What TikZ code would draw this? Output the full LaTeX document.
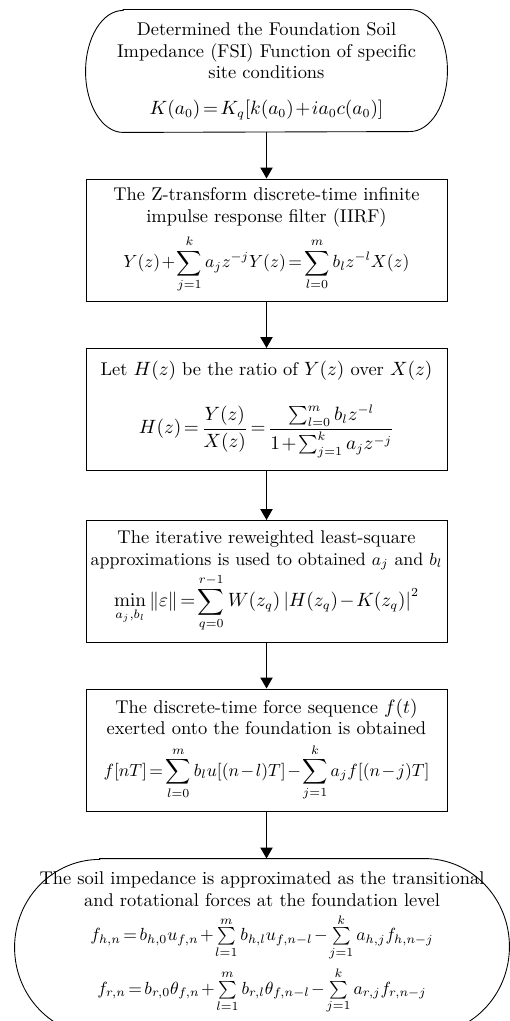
\documentclass[tikz,border=0pt]{standalone}
\usepackage{tikz}
\usetikzlibrary{
  positioning,
  arrows.meta
}
\usepackage{amsmath,amssymb}
\thickmuskip=2.5mu plus 2mu
\medmuskip=1.5mu plus 1mu

\begin{document}
\begin{tikzpicture}[
  term/.style={line width=0.5pt, minimum height=2.44cm, minimum width=7.22cm,
               align=center, font=\fontsize{10.5}{12.3}\selectfont, inner sep=0pt},
  box/.style={draw, line width=0.5pt, minimum height=2.44cm, minimum width=7.22cm,
              align=center, font=\fontsize{10.5}{12.3}\selectfont, inner sep=0pt},
  edge/.style={line width=0.5pt},
  arr/.style={-{Triangle[length=2.2mm, width=2.4mm]}, line width=1.1pt}
]
  \useasboundingbox (0,0) rectangle (10.2,-20.42);
  \clip (0,0) rectangle (10.2,-20.42);

  \node[term] (fsi) at (5.33, -1.42) {
    Determined the Foundation Soil\\
    Impedance (FSI) Function of specific\\
    site conditions\\[8pt]
    $K(a_0)=K_q[k(a_0)+ia_0c(a_0)]$
  };
  \draw[edge] ([xshift=0.75cm]fsi.north west) -- ([xshift=-0.75cm]fsi.north east)
    arc[start angle=90, end angle=-90, x radius=0.75cm, y radius=1.22cm]
    -- ([xshift=0.75cm]fsi.south west)
    arc[start angle=270, end angle=90, x radius=0.75cm, y radius=1.22cm] -- cycle;

  \node[box] (iirf) at (5.33, -4.80) {
    The Z-transform discrete-time infinite\\
    impulse response filter (IIRF)\\[4pt]
    {\fontsize{10}{12}\selectfont
    $\displaystyle Y(z)+\sum_{j=1}^{k}a_jz^{-j}Y(z)=\sum_{l=0}^{m}b_lz^{-l}X(z)$}
  };

  \node[box] (ratio) at (5.33, -8.19) {
    Let $H(z)$ be the ratio of $Y(z)$ over $X(z)$\\[13pt]
    $\displaystyle H(z)=\frac{Y(z)}{X(z)}=\frac{\sum_{l=0}^{m}b_lz^{-l}}{1+\sum_{j=1}^{k}a_jz^{-j}}$
  };

  \node[box] (irls) at (5.33, -11.63) {
    The iterative reweighted least-square\\
    {\fontsize{10.2}{12.3}\selectfont approximations is used to obtained $a_j$ and $b_l$}\\[1pt]
    $\displaystyle \min_{a_j,b_l}\|\varepsilon\|=\sum_{q=0}^{r-1}W(z_q)\left|H(z_q)-K(z_q)\right|^2$
  };

  \node[box] (force) at (5.33, -15.00) {
    The discrete-time force sequence $f(t)$\\
    exerted onto the foundation is obtained\\[4pt]
    {\fontsize{10}{12}\selectfont
    $\displaystyle f[nT]=\sum_{l=0}^{m}b_lu[(n-l)T]-\sum_{j=1}^{k}a_jf[(n-j)T]$}
  };

  \node[term, minimum width=9.88cm, minimum height=3.52cm] (soil) at (5.24, -18.86) {
    The soil impedance is approximated as the transitional\\
    and rotational forces at the foundation level\\[3pt]
    {\fontsize{10}{12}\selectfont
    $f_{h,n}=b_{h,0}u_{f,n}+\sum\limits_{l=1}^{m}b_{h,l}u_{f,n-l}-\sum\limits_{j=1}^{k}a_{h,j}f_{h,n-j}$}\\[3pt]
    {\fontsize{10}{12}\selectfont
    $f_{r,n}=b_{r,0}\theta_{f,n}+\sum\limits_{l=1}^{m}b_{r,l}\theta_{f,n-l}-\sum\limits_{j=1}^{k}a_{r,j}f_{r,n-j}$}
  };
  \draw[edge] ([xshift=1.7cm,yshift=-0.08cm]soil.north west) -- ([xshift=-1.7cm,yshift=-0.08cm]soil.north east)
    arc[start angle=90, end angle=-90, x radius=1.7cm, y radius=1.76cm]
    -- ([xshift=1.7cm,yshift=-0.08cm]soil.south west)
    arc[start angle=270, end angle=90, x radius=1.7cm, y radius=1.76cm] -- cycle;

  \draw[arr] (fsi) -- (iirf);
  \draw[arr] (iirf) -- (ratio);
  \draw[arr] (ratio) -- (irls);
  \draw[arr] (irls) -- (force);
  \draw[arr] (force.south -| iirf) -- ([yshift=-0.08cm]soil.north -| iirf);
\end{tikzpicture}
\end{document}
